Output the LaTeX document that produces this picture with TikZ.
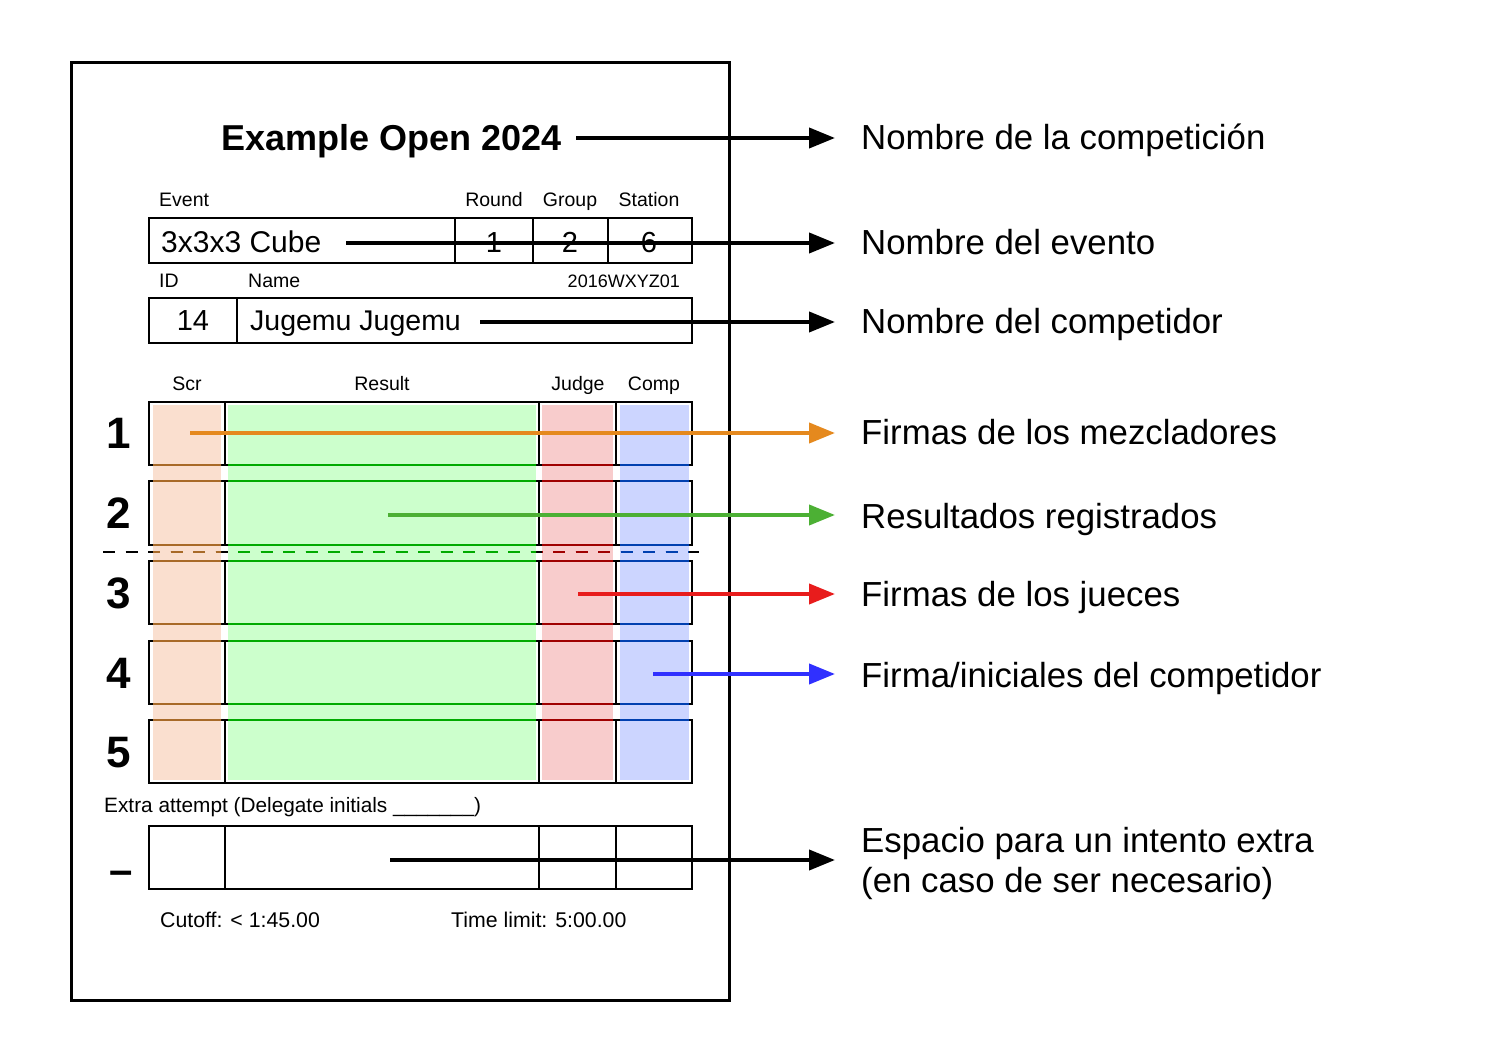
\documentclass[tikz,border=0pt]{standalone}
\usepackage{fontspec}
\setmainfont{Liberation Sans}
\usetikzlibrary{arrows.meta}
\definecolor{scrfill}{RGB}{250,223,207}
\definecolor{resfill}{RGB}{204,255,204}
\definecolor{judfill}{RGB}{248,204,204}
\definecolor{cmpfill}{RGB}{204,213,255}
\definecolor{scrline}{RGB}{168,106,40}
\definecolor{resline}{RGB}{0,170,0}
\definecolor{judline}{RGB}{160,0,0}
\definecolor{cmpline}{RGB}{0,64,176}
\definecolor{arrorange}{RGB}{229,137,30}
\definecolor{arrgreen}{RGB}{76,176,52}
\definecolor{arrred}{RGB}{232,28,28}
\definecolor{arrblue}{RGB}{48,48,255}
\begin{document}
\begin{tikzpicture}[x=1pt,y=-1pt,
  lbl/.style={inner sep=0pt, anchor=base west, font=\fontsize{34.8}{41}\selectfont},
  small/.style={inner sep=0pt, font=\fontsize{19.5}{23}\selectfont},
  smaller/.style={inner sep=0pt, font=\fontsize{18}{21}\selectfont},
  foot/.style={inner sep=0pt, anchor=base west, font=\fontsize{21.3}{25}\selectfont},
  boxtxt/.style={inner sep=0pt, font=\fontsize{29}{34}\selectfont},
  rownum/.style={inner sep=0pt, anchor=base, font=\bfseries\fontsize{44}{50}\selectfont},
  frm/.style={draw=black, line width=2pt},
  dashline/.style={line width=2pt, dash pattern=on 12pt off 10.5pt},
  pointer/.style={line width=4pt, -{Triangle[length=26pt,width=20pt]}, shorten >=26pt},
]
\useasboundingbox (0,0) rectangle (1500,1064);
\fill[white] (0,0) rectangle (1500,1064);

% page frame
\draw[line width=3pt] (71,63) rectangle (729,1000);

% title
\node[font=\bfseries\fontsize{36}{42}\selectfont, inner sep=0pt, anchor=base west] (title) at (221,151) {Example Open 2024};

% event header
\node[small, anchor=base west] (evlab) at (159,207) {Event};
\node[small, anchor=base] (rdlab) at (494,207) {Round};
\node[small, anchor=base] (grlab) at (570,207) {Group};
\node[small, anchor=base] (stlab) at (649,207) {Station};
\draw[frm] (149,218) rectangle (692,263);
\draw[frm] (455,218) -- (455,263);
\draw[frm] (533,218) -- (533,263);
\draw[frm] (608,218) -- (608,263);
\node[boxtxt, font=\fontsize{30}{35}\selectfont, anchor=base west] (event) at (161,252.5) {3x3x3 Cube};
\node[boxtxt, anchor=base] (round) at (494,252.5) {1};
\node[boxtxt, anchor=base] (group) at (570,252.5) {2};
\node[boxtxt, anchor=base] (station) at (649,252.5) {6};

% competitor
\node[small, anchor=base west] (idlab) at (159,288) {ID};
\node[small, anchor=base west] (namelab) at (248,288) {Name};
\node[smaller, anchor=base east] (wcaid) at (680,288) {2016WXYZ01};
\draw[frm] (149,298) rectangle (692,343);
\draw[frm] (237,298) -- (237,343);
\node[boxtxt, anchor=base] (id) at (193,331) {14};
\node[boxtxt, font=\fontsize{28.5}{33}\selectfont, anchor=base west] (name) at (250,331) {Jugemu Jugemu};

% column labels
\node[small, anchor=base] (scrlab) at (187,391) {Scr};
\node[small, anchor=base] (reslab) at (382,391) {Result};
\node[small, anchor=base] (judlab) at (578,391) {Judge};
\node[small, anchor=base] (cmplab) at (654,391) {Comp};

% column fills
\fill[scrfill] (153,405) rectangle (221,780);
\fill[resfill] (228,405) rectangle (536,780);
\fill[judfill] (542,405) rectangle (613,780);
\fill[cmpfill] (620,405) rectangle (689,780);

% attempt rows
\foreach \t in {402,481.5,561,640.5,720} {
  \draw[frm] (149,\t) rectangle (692,{\t+63});
  \draw[frm] (225,\t) -- (225,{\t+63});
  \draw[frm] (539,\t) -- (539,{\t+63});
  \draw[frm] (616,\t) -- (616,{\t+63});
}
\draw[dashline] (103,552) -- (699,552);

% coloured overlays of lines inside the columns
\foreach \xa/\xb/\col in {153/221/scrline, 228/536/resline, 542/613/judline, 620/689/cmpline} {
  \begin{scope}
    \clip (\xa,405) rectangle (\xb,780);
    \foreach \y in {465,481.5,544.5,561,624,640.5,703.5,720}
      \draw[frm, draw=\col] (100,\y) -- (700,\y);
    \draw[dashline, draw=\col] (103,552) -- (699,552);
  \end{scope}
}

% row numbers
\node[rownum] (n1) at (119,449) {1};
\node[rownum] (n2) at (119,529) {2};
\node[rownum] (n3) at (119,608) {3};
\node[rownum] (n4) at (119,688) {4};
\node[rownum] (n5) at (119,767) {5};

% extra attempt
\node[foot, font=\fontsize{20.8}{24}\selectfont] (extralab) at (104,812) {Extra attempt (Delegate initials \_\_\_\_\_\_\_)};
\draw[frm] (149,826) rectangle (692,889);
\draw[frm] (225,826) -- (225,889);
\draw[frm] (539,826) -- (539,889);
\draw[frm] (616,826) -- (616,889);
\node[inner sep=0pt, anchor=base, font=\bfseries\fontsize{42}{48}\selectfont] (nx) at (121,884) {–};

% footer
\node[foot] (cutoff) at (160,927) {Cutoff: < 1:45.00};
\node[foot] (timelimit) at (451,927) {Time limit: 5:00.00};

% right labels
\node[lbl] (l0) at (861,150) {Nombre de la competición};
\node[lbl] (l1) at (861,255) {Nombre del evento};
\node[lbl] (l2) at (861,334) {Nombre del competidor};
\node[lbl] (l3) at (861,445) {Firmas de los mezcladores};
\node[lbl] (l4) at (861,528) {Resultados registrados};
\node[lbl] (l5) at (861,606) {Firmas de los jueces};
\node[lbl] (l6) at (861,687) {Firma/iniciales del competidor};
\node[lbl] (l7) at (861,852) {Espacio para un intento extra};
\node[lbl] (l7b) at (861,892) {(en caso de ser necesario)};

% arrow start points
\coordinate (s0) at (576,138);
\coordinate (s1) at (346,243);
\coordinate (s2) at (480,322);
\coordinate (s3) at (190,433);
\coordinate (s4) at (388,515);
\coordinate (s5) at (578,594);
\coordinate (s6) at (653,674);
\coordinate (s7) at (390,860);

\draw[pointer] (s0) -- (s0 -| l0.west);
\draw[pointer] (s1) -- (s1 -| l1.west);
\draw[pointer] (s2) -- (s2 -| l2.west);
\draw[pointer, draw=arrorange] (s3) -- (s3 -| l3.west);
\draw[pointer, draw=arrgreen] (s4) -- (s4 -| l4.west);
\draw[pointer, draw=arrred] (s5) -- (s5 -| l5.west);
\draw[pointer, draw=arrblue] (s6) -- (s6 -| l6.west);
\draw[pointer] (s7) -- (s7 -| l7.west);
\end{tikzpicture}
\end{document}
